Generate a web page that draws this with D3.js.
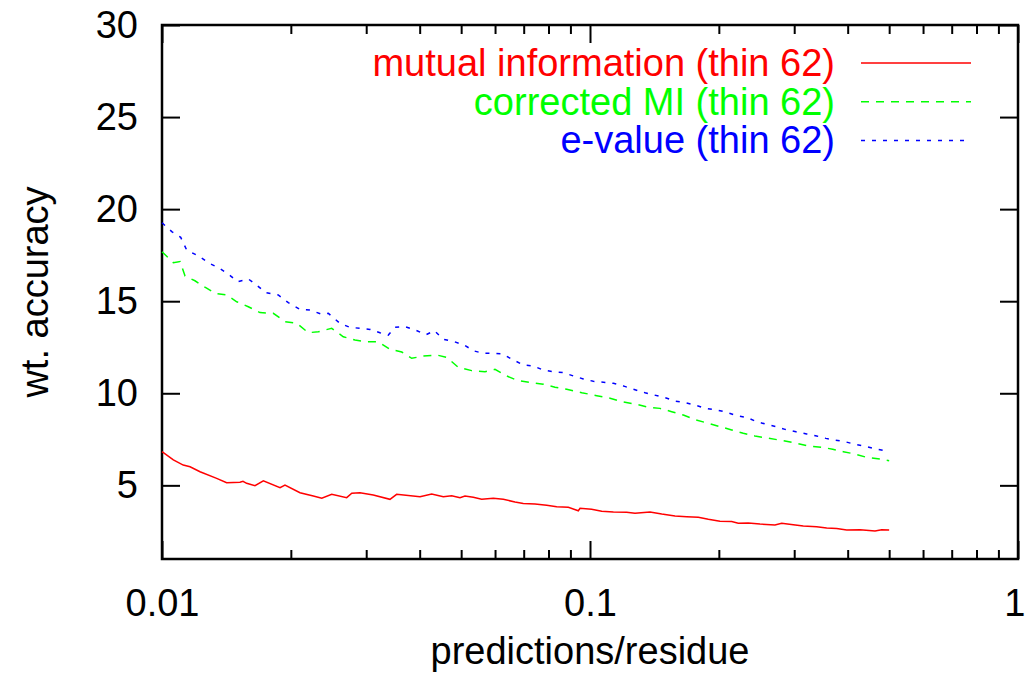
<!DOCTYPE html>
<html>
<head>
<meta charset="utf-8">
<style>
    body { margin: 0; background: #fff; }
    svg { display: block; }
    text { font-family: "Liberation Sans", Arial, Helvetica, sans-serif; }
    .axis .domain { display: none; }
    .axis .tick line { stroke: #000; stroke-width: 2px; }
    .axis .tick text { font-size: 38px; fill: #000; }
</style>
</head>
<body>
<svg width="1026" height="681"></svg>
<script src="https://d3js.org/d3.v7.min.js"></script>
<script>
// ticks
let yTicks = [5, 10, 15, 20, 25, 30]
let xMajor = [0.01, 0.1, 1]
let xMinor = [0.02, 0.03, 0.04, 0.05, 0.06, 0.07, 0.08, 0.09, 0.2, 0.3, 0.4, 0.5, 0.6, 0.7, 0.8, 0.9]

let seriesNames = ["mutual information (thin 62)", "corrected MI (thin 62)", "e-value (thin 62)"]

// mutual information
let miX = [0.0100, 0.01063, 0.01121, 0.01163, 0.01227, 0.01342, 0.01416, 0.01521, 0.01546, 0.01577,
    0.01649, 0.01725, 0.01887, 0.01938, 0.02101, 0.02257, 0.02362, 0.02492, 0.02701, 0.02776,
    0.02901, 0.03116, 0.03409, 0.03534, 0.04007, 0.04267, 0.04542, 0.04752, 0.04969, 0.05104,
    0.05337, 0.05584, 0.05943, 0.06272, 0.06679, 0.06984, 0.07439, 0.07922, 0.08360, 0.08900,
    0.09392, 0.09478, 0.1009, 0.1065, 0.1134, 0.1218, 0.1274, 0.1381, 0.1471, 0.1580,
    0.1682, 0.1791, 0.1890, 0.2012, 0.2143, 0.2220, 0.2343, 0.2495, 0.2705, 0.2805,
    0.2985, 0.3150, 0.3385, 0.3573, 0.3770, 0.3979, 0.4275, 0.4634, 0.4804, 0.5]
let miY = [6.83, 6.38, 6.10, 6.01, 5.74, 5.38, 5.14, 5.17, 5.22, 5.11,
    4.98, 5.24, 4.87, 5.02, 4.60, 4.42, 4.30, 4.51, 4.33, 4.57,
    4.60, 4.48, 4.24, 4.51, 4.38, 4.53, 4.38, 4.44, 4.33, 4.42,
    4.35, 4.24, 4.30, 4.24, 4.10, 4.02, 3.99, 3.92, 3.84, 3.81,
    3.62, 3.75, 3.70, 3.59, 3.55, 3.54, 3.48, 3.55, 3.44, 3.34,
    3.30, 3.27, 3.16, 3.05, 3.03, 2.94, 2.96, 2.90, 2.85, 2.94,
    2.86, 2.79, 2.75, 2.68, 2.65, 2.58, 2.59, 2.52, 2.59, 2.58]

// corrected MI
let cmiX = [0.0100, 0.01063, 0.01102, 0.01132, 0.01194, 0.01260, 0.01330, 0.01416, 0.01495, 0.01591,
    0.01694, 0.01820, 0.01938, 0.02064, 0.02197, 0.02319, 0.02492, 0.02652, 0.02824, 0.03008,
    0.03201, 0.03409, 0.03632, 0.03832, 0.04078, 0.04384, 0.04626, 0.04924, 0.05291, 0.05684,
    0.05998, 0.06387, 0.06802, 0.07308, 0.07779, 0.08284, 0.08823, 0.09566, 0.1037, 0.1114,
    0.1186, 0.1274, 0.1369, 0.1457, 0.1552, 0.1652, 0.1769, 0.1890, 0.2012, 0.2143,
    0.2281, 0.2429, 0.2609, 0.2769, 0.2985, 0.3236, 0.3479, 0.3690, 0.3907, 0.4161,
    0.4432, 0.4760, 0.5]
let cmiY = [17.69, 17.09, 17.15, 16.37, 16.11, 15.76, 15.43, 15.34, 14.97, 14.70,
    14.38, 14.34, 13.89, 13.80, 13.29, 13.34, 13.53, 13.07, 12.89, 12.80,
    12.80, 12.39, 12.24, 11.90, 12.02, 12.08, 11.95, 11.41, 11.23, 11.17,
    11.30, 10.94, 10.68, 10.58, 10.49, 10.33, 10.22, 10.03, 9.87, 9.73,
    9.54, 9.42, 9.24, 9.18, 9.00, 8.82, 8.55, 8.37, 8.19, 8.01,
    7.83, 7.68, 7.56, 7.46, 7.32, 7.14, 7.07, 6.96, 6.83, 6.70,
    6.52, 6.43, 6.34]

// e-value
let evX = [0.0100, 0.01054, 0.01106, 0.01142, 0.01216, 0.01290, 0.01361, 0.01428, 0.01503, 0.01591,
    0.01649, 0.01750, 0.01869, 0.01973, 0.02101, 0.02217, 0.02362, 0.02447, 0.02605, 0.02750,
    0.02901, 0.03061, 0.03230, 0.03378, 0.03502, 0.03695, 0.03901, 0.04138, 0.04327, 0.04542,
    0.04793, 0.05077, 0.05357, 0.05632, 0.05966, 0.06252, 0.06619, 0.06984, 0.07371, 0.07779,
    0.08209, 0.08663, 0.09142, 0.09648, 0.1018, 0.1074, 0.1134, 0.1196, 0.1262, 0.1345,
    0.1411, 0.1497, 0.1580, 0.1667, 0.1759, 0.1866, 0.1977, 0.2086, 0.2201, 0.2323,
    0.2451, 0.2587, 0.2720, 0.2855, 0.3029, 0.3208, 0.3385, 0.3559, 0.3736, 0.3943,
    0.4161, 0.4368, 0.4691, 0.5]
let evY = [19.26, 18.78, 18.47, 17.78, 17.46, 17.06, 16.79, 16.48, 16.06, 16.21,
    15.94, 15.46, 15.34, 14.92, 14.56, 14.52, 14.29, 14.34, 13.80, 13.58,
    13.53, 13.47, 13.29, 13.16, 13.58, 13.62, 13.44, 13.18, 13.40, 12.93,
    12.82, 12.62, 12.30, 12.17, 12.17, 12.13, 11.81, 11.54, 11.48, 11.26,
    11.17, 11.12, 10.94, 10.78, 10.65, 10.60, 10.54, 10.40, 10.22, 10.03,
    9.91, 9.76, 9.58, 9.49, 9.36, 9.18, 9.09, 8.97, 8.78, 8.69,
    8.46, 8.31, 8.19, 8.04, 7.91, 7.79, 7.68, 7.55, 7.46, 7.37,
    7.23, 7.14, 6.96, 6.83]

let svg = d3.select("svg")

let margin = { top: 25, right: 8, bottom: 122, left: 162 }
let width = 1026, height = 681

let x = d3.scaleLog()
    .domain([0.01, 1])
    .range([margin.left, width - margin.right])

let y = d3.scaleLinear()
    .domain([1, 30])
    .range([height - margin.bottom, margin.top])

let major = 18, minor = 9

// left axis with labels, ticks pointing in
svg.append("g")
    .attr("class", "axis")
    .attr("transform", `translate(${x(0.01)},0)`)
    .call(d3.axisLeft(y).tickValues(yTicks).tickSize(-major).tickPadding(24).tickFormat(d3.format("d")))

// right axis mirrored, no labels
svg.append("g")
    .attr("class", "axis")
    .attr("transform", `translate(${x(1)},0)`)
    .call(d3.axisRight(y).tickValues(yTicks).tickSize(-major).tickFormat(""))

// bottom axis
let xAxisBottom = svg.append("g")
    .attr("class", "axis")
    .attr("transform", `translate(0,${y(1)})`)
    .call(d3.axisBottom(x).tickValues(xMajor).tickSize(-major).tickPadding(30).tickFormat(d => String(d)))

// last label sits at the page edge, keep it inside
xAxisBottom.selectAll(".tick text")
    .filter(d => d === 1)
    .attr("text-anchor", "end")
    .attr("dx", 7)

svg.append("g")
    .attr("class", "axis")
    .attr("transform", `translate(0,${y(1)})`)
    .call(d3.axisBottom(x).tickValues(xMinor).tickSize(-minor).tickFormat(""))

// top axis mirrored
svg.append("g")
    .attr("class", "axis")
    .attr("transform", `translate(0,${y(30)})`)
    .call(d3.axisTop(x).tickValues(xMajor).tickSize(-major).tickFormat(""))

svg.append("g")
    .attr("class", "axis")
    .attr("transform", `translate(0,${y(30)})`)
    .call(d3.axisTop(x).tickValues(xMinor).tickSize(-minor).tickFormat(""))

// frame
svg.append("rect")
    .attr("x", x(0.01))
    .attr("y", y(30))
    .attr("width", x(1) - x(0.01))
    .attr("height", y(1) - y(30))
    .style("fill", "none")
    .style("stroke", "#000")
    .style("stroke-width", "2.5px")

// axis titles
svg.append("text")
    .attr("x", (x(0.01) + x(1)) / 2)
    .attr("y", 664)
    .attr("text-anchor", "middle")
    .attr("font-size", 38)
    .text("predictions/residue")

svg.append("text")
    .attr("transform", `translate(48,${(y(1) + y(30)) / 2}) rotate(-90)`)
    .attr("text-anchor", "middle")
    .attr("font-size", 38)
    .text("wt. accuracy")

// series
let series = [
    { name: seriesNames[0], xs: miX, ys: miY, color: "#ff0000", dash: null },
    { name: seriesNames[1], xs: cmiX, ys: cmiY, color: "#00ff00", dash: "8,7" },
    { name: seriesNames[2], xs: evX, ys: evY, color: "#0000ff", dash: "4,7" }
]

let line = d3.line()
    .x(d => x(d[0]))
    .y(d => y(d[1]))

svg.append("g")
    .selectAll(".line")
    .data(series)
    .join("path")
    .attr("class", "line")
    .attr("d", d => line(d.xs.map((v, i) => [v, d.ys[i]])))
    .style("fill", "none")
    .style("stroke", d => d.color)
    .style("stroke-width", "1.5px")
    .style("stroke-dasharray", d => d.dash)

// legend
let legend = svg.append("g")
    .selectAll(".key")
    .data(series)
    .join("g")
    .attr("class", "key")
    .attr("transform", (d, i) => `translate(0,${63 + i * 38.7})`)

legend.append("text")
    .attr("x", 835)
    .attr("y", 13)
    .attr("text-anchor", "end")
    .attr("font-size", 38)
    .style("fill", d => d.color)
    .text(d => d.name)

legend.append("line")
    .attr("x1", 861)
    .attr("x2", 971)
    .style("stroke", d => d.color)
    .style("stroke-width", "1.5px")
    .style("stroke-dasharray", d => d.dash)
</script>
</body>
</html>
